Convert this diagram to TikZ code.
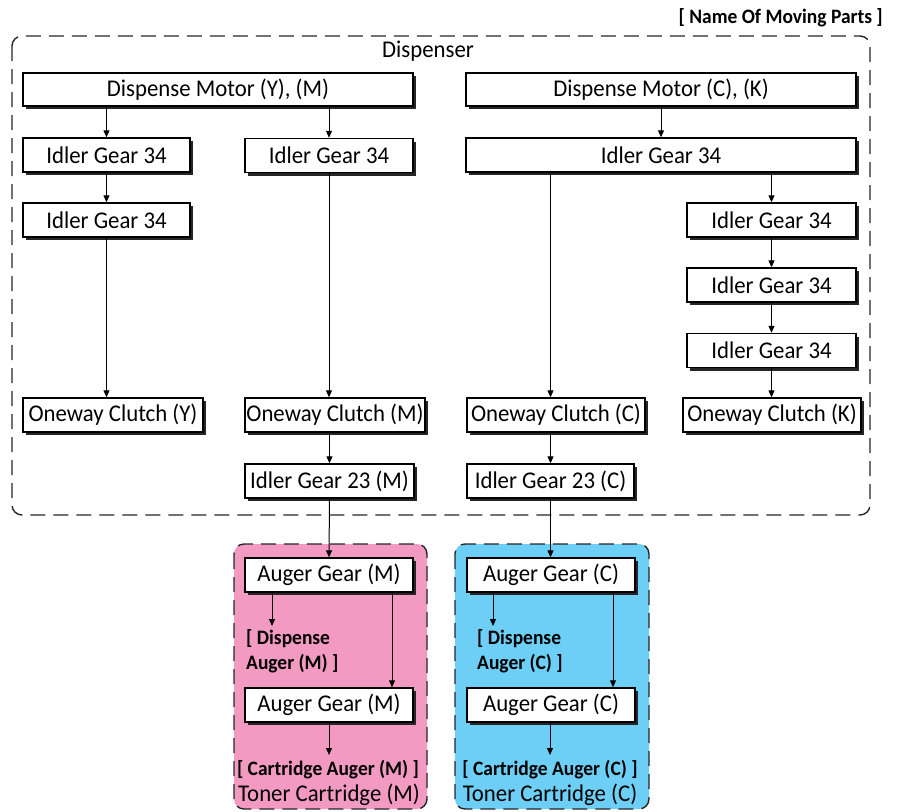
\documentclass[tikz,border=0pt]{standalone}
\usepackage{fontspec}
\setmainfont{Carlito}[FakeStretch=0.95]
\usetikzlibrary{shadows,arrows.meta}
\definecolor{pinkbg}{HTML}{F39AC3}
\definecolor{bluebg}{HTML}{6DCFF6}
\tikzset{
  box/.style={draw=black, line width=1.4pt, fill=white, inner sep=0pt, minimum height=34pt,
    font=\fontsize{24}{24}\selectfont,
    general shadow={fill=black!85, shadow xshift=3pt, shadow yshift=-3pt}},
  arr/.style={line width=1pt, -{Triangle[length=7pt,width=6pt]}},
  grp/.style={dashed, dash pattern=on 15pt off 8pt, line width=1.4pt, rounded corners=10pt, draw=black!85},
  lbl/.style={inner sep=0pt, font=\bfseries\fontsize{20.5}{25}\selectfont},
  big/.style={inner sep=0pt, font=\fontsize{24}{24}\selectfont}
}
\begin{document}
\begin{tikzpicture}[x=1pt,y=-1pt]
\useasboundingbox (0,0) rectangle (899,811);
% groups
\draw[grp] (12,36) rectangle (870,515);
\draw[grp, fill=pinkbg] (234,544) rectangle (427,809);
\draw[grp, fill=bluebg] (455,544) rectangle (649,809);
\node[lbl, anchor=east] (title) at (883,18) {[ Name Of Moving Parts ]};
\node[big] (disp) at (428,51) {Dispenser};
% boxes
\node[box, minimum width=390pt, minimum height=33pt] (mYM) at (218,89.5) {Dispense Motor (Y), (M)};
\node[box, minimum width=390pt, minimum height=33pt] (mCK) at (661,89.5) {Dispense Motor (C), (K)};
\node[box, minimum width=167pt] (iA1) at (106.5,155) {Idler Gear 34};
\node[box, minimum width=168pt] (iB1) at (329,155.5) {Idler Gear 34};
\node[box, minimum width=390pt] (iR) at (661,155) {Idler Gear 34};
\node[box, minimum width=167pt] (iA2) at (106.5,220) {Idler Gear 34};
\node[box, minimum width=169pt] (iK1) at (771.5,220) {Idler Gear 34};
\node[box, minimum width=169pt] (iK2) at (771.5,285) {Idler Gear 34};
\node[box, minimum width=169pt] (iK3) at (771.5,350.5) {Idler Gear 34};
\node[box, minimum width=180pt] (oY) at (113,415) {Oneway Clutch (Y)};
\node[box, minimum width=180pt] (oM) at (335,415) {Oneway Clutch (M)};
\node[box, minimum width=178pt] (oC) at (556,415) {Oneway Clutch (C)};
\node[box, minimum width=178pt] (oK) at (772,415) {Oneway Clutch (K)};
\node[box, minimum width=169pt] (gM) at (329.5,481) {Idler Gear 23 (M)};
\node[box, minimum width=167pt] (gC) at (550.5,481) {Idler Gear 23 (C)};
\node[box, minimum width=168pt] (aM1) at (329,575) {Auger Gear (M)};
\node[box, minimum width=168pt] (aM2) at (329,705) {Auger Gear (M)};
\node[box, minimum width=168pt] (aC1) at (551,575) {Auger Gear (C)};
\node[box, minimum width=168pt] (aC2) at (551,705) {Auger Gear (C)};
% labels in cartridges
\node[lbl, anchor=north west, align=left] (dM) at (246,629) {[ Dispense\\Auger (M) ]};
\node[lbl, anchor=north west, align=left] (dC) at (477,629) {[ Dispense\\Auger (C) ]};
\node[lbl] (cM) at (328,770) {[ Cartridge Auger (M) ]};
\node[lbl] (cC) at (550,770) {[ Cartridge Auger (C) ]};
\node[big] (tM) at (329,795) {Toner Cartridge (M)};
\node[big] (tC) at (550,795) {Toner Cartridge (C)};
\coordinate (dMa) at (272,626);
\coordinate (dCa) at (493,626);
\coordinate (cMa) at (329,755);
\coordinate (cCa) at (550,755);
% arrows
\draw[arr] (mYM.south -| iA1) -- (iA1.north);
\draw[arr] (mYM.south -| iB1) -- (iB1.north);
\draw[arr] (iA1.south) -- (iA2.north);
\draw[arr] (iA2.south) -- (oY.north -| iA2.south);
\draw[arr] (iB1.south) -- (oM.north -| iB1.south);
\draw[arr] (oM.south -| gM) -- (gM.north);
\draw[arr] (gM.south) -- (aM1.north);
\draw[arr] (mCK.south) -- (iR.north);
\draw[arr] (iR.south -| gC) -- (oC.north -| gC);
\draw[arr] (iR.south -| iK1) -- (iK1.north);
\draw[arr] (iK1.south) -- (iK2.north);
\draw[arr] (iK2.south) -- (iK3.north);
\draw[arr] (iK3.south) -- (oK.north -| iK3.south);
\draw[arr] (oC.south -| gC) -- (gC.north);
\draw[arr] (gC.south) -- (aC1.north -| gC.south);
\draw[arr] (aM1.south -| dMa) -- (dMa);
\draw[arr] ([xshift=63pt]aM1.south) -- ([xshift=63pt]aM2.north);
\draw[arr] (aM2.south) -- (cMa);
\draw[arr] (aC1.south -| dCa) -- (dCa);
\draw[arr] ([xshift=62pt]aC1.south) -- ([xshift=62pt]aC2.north);
\draw[arr] (aC2.south -| cCa) -- (cCa);
\end{tikzpicture}
\end{document}
